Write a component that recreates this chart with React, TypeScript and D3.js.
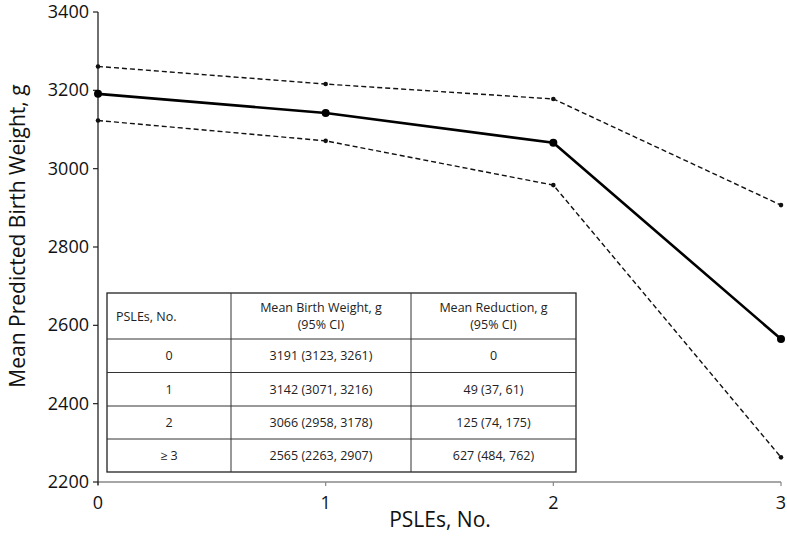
import React from "react";
import * as d3 from "d3";

const xValues = [0, 1, 2, 3];
const meanValues = [3191, 3142, 3066, 2565];
const lowerValues = [3123, 3071, 2958, 2263];
const upperValues = [3261, 3216, 3178, 2907];
const yTicks = [2200, 2400, 2600, 2800, 3000, 3200, 3400];
const xTicks = [0, 1, 2, 3];

const tableHeaders = [["PSLEs, No."], ["Mean Birth Weight, g", "(95% CI)"], ["Mean Reduction, g", "(95% CI)"]];
const tableRows = [
  ["0", "3191 (3123, 3261)", "0"],
  ["1", "3142 (3071, 3216)", "49 (37, 61)"],
  ["2", "3066 (2958, 3178)", "125 (74, 175)"],
  ["\u2265 3", "2565 (2263, 2907)", "627 (484, 762)"],
];

export default function App() {
  const W = 787, H = 547;
  const x = d3.scaleLinear().domain([0, 3]).range([98, 781]);
  const y = d3.scaleLinear().domain([2200, 3400]).range([482, 12]);
  const line = d3.line<number>().x((_, i) => x(xValues[i])).y((d) => y(d));
  const font = "'Open Sans', sans-serif";

  const tLeft = 107, tTop = 293;
  const colX = [107, 231, 411, 576];
  const rowY = [293, 339, 372.5, 406, 439, 472];

  return (
    <svg width={W} height={H} style={{ position: "absolute", left: 0, top: 0, background: "#fff" }} fontFamily={font}>
      {/* Table */}
      <g>
        <rect x={colX[0]} y={rowY[0]} width={colX[3] - colX[0]} height={rowY[5] - rowY[0]} fill="#fff" stroke="#222" strokeWidth={1.3} />
        {colX.slice(1, 3).map((cx, i) => (
          <line key={"c" + i} x1={cx} x2={cx} y1={rowY[0]} y2={rowY[5]} stroke="#333" strokeWidth={1} />
        ))}
        {rowY.slice(1, 5).map((ry, i) => (
          <line key={"r" + i} x1={colX[0]} x2={colX[3]} y1={ry} y2={ry} stroke="#333" strokeWidth={1} />
        ))}
        <text x={116} y={(rowY[0] + rowY[1]) / 2 + 4.5} fontSize={12.5} fill="#222">{tableHeaders[0][0]}</text>
        {[1, 2].map((c) => (
          <text key={"h" + c} x={(colX[c] + colX[c + 1]) / 2} textAnchor="middle" fontSize={12.5} fill="#222">
            <tspan x={(colX[c] + colX[c + 1]) / 2} y={rowY[0] + 19}>{tableHeaders[c][0]}</tspan>
            <tspan x={(colX[c] + colX[c + 1]) / 2} y={rowY[0] + 36}>{tableHeaders[c][1]}</tspan>
          </text>
        ))}
        {tableRows.map((row, r) =>
          row.map((cell, c) => (
            <text key={r + "-" + c} x={(colX[c] + colX[c + 1]) / 2} y={(rowY[r + 1] + rowY[r + 2]) / 2 + 4.5} textAnchor="middle" fontSize={12.5} fill="#222">
              {cell}
            </text>
          ))
        )}
      </g>

      {/* Axes */}
      <line x1={x(0)} x2={x(3)} y1={y(2200)} y2={y(2200)} stroke="#888" strokeWidth={1.5} />
      {xTicks.map((t) => (
        <g key={"xt" + t}>
          <line x1={x(t)} x2={x(t)} y1={y(2200)} y2={y(2200) + 4} stroke="#888" strokeWidth={1.2} />
          <text x={x(t)} y={y(2200) + 27} textAnchor="middle" fontSize={18} fill="#111">{t}</text>
        </g>
      ))}
      <line x1={x(0)} x2={x(0)} y1={y(3400)} y2={y(2200) + 3} stroke="#222" strokeWidth={1.3} />
      {yTicks.map((t) => (
        <g key={"yt" + t}>
          <line x1={x(0) - 5} x2={x(0)} y1={y(t)} y2={y(t)} stroke="#222" strokeWidth={1.2} />
          <text x={x(0) - 9} y={y(t) + 6} textAnchor="end" fontSize={18} fill="#111">{t}</text>
        </g>
      ))}

      {/* CI lines */}
      {[upperValues, lowerValues].map((vals, k) => (
        <g key={"ci" + k}>
          <path d={line(vals) || ""} fill="none" stroke="#111" strokeWidth={1.4} strokeDasharray="5,3" />
          {vals.map((v, i) => (
            <circle key={i} cx={x(xValues[i])} cy={y(v)} r={2.3} fill="#111" />
          ))}
        </g>
      ))}
      {/* Mean line */}
      <path d={line(meanValues) || ""} fill="none" stroke="#000" strokeWidth={2.6} />
      {meanValues.map((v, i) => (
        <circle key={"m" + i} cx={x(xValues[i])} cy={y(v)} r={4} fill="#000" />
      ))}

      {/* Titles */}
      <text x={440} y={527} textAnchor="middle" fontSize={21} fill="#111">PSLEs, No.</text>
      <text transform={`translate(25, 236) rotate(-90)`} textAnchor="middle" fontSize={21} fill="#111">
        Mean Predicted Birth Weight, g
      </text>
    </svg>
  );
}
